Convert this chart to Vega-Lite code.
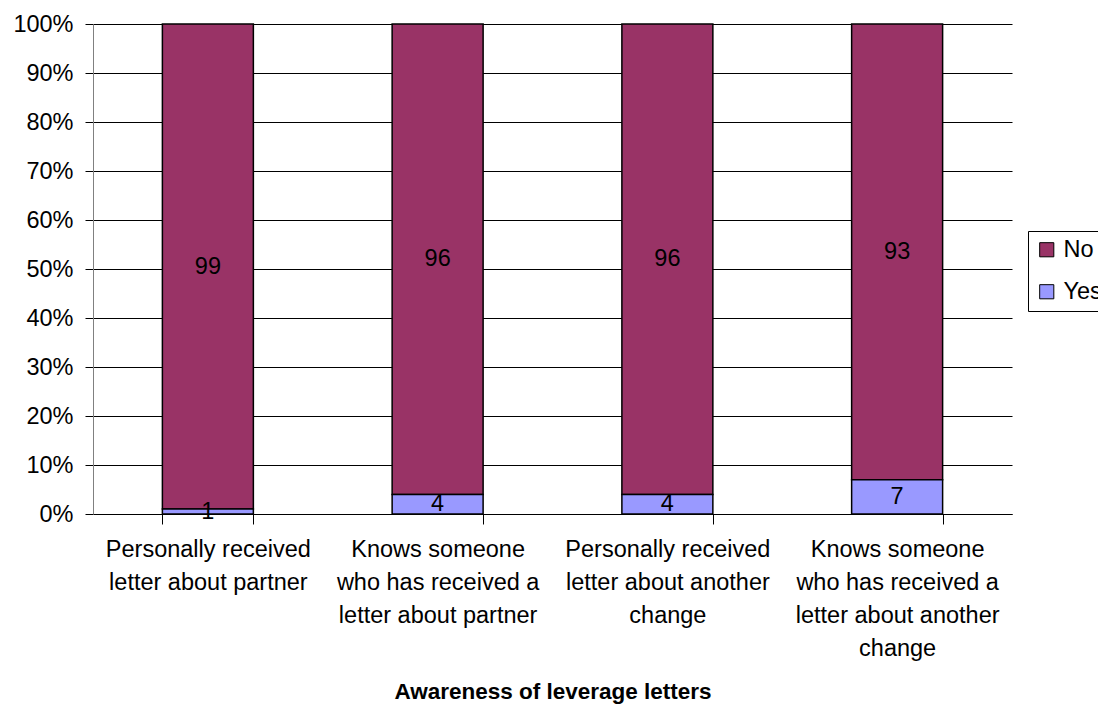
{
  "$schema": "https://vega.github.io/schema/vega-lite/v6.json",
  "autosize": {"type": "none"},
  "width": 919,
  "height": 490,
  "padding": {"left": 93, "top": 24, "right": 86, "bottom": 190},
  "background": "white",
  "config": {
    "view": {"stroke": null},
    "font": "Liberation Sans"
  },
  "data": {
    "values": [
      {"item": "Personally received letter about partner", "answer": "No", "pct": 99},
      {"item": "Personally received letter about partner", "answer": "Yes", "pct": 1},
      {"item": "Knows someone who has received a letter about partner", "answer": "No", "pct": 96},
      {"item": "Knows someone who has received a letter about partner", "answer": "Yes", "pct": 4},
      {"item": "Personally received letter about another change", "answer": "No", "pct": 96},
      {"item": "Personally received letter about another change", "answer": "Yes", "pct": 4},
      {"item": "Knows someone who has received a letter about another change", "answer": "No", "pct": 93},
      {"item": "Knows someone who has received a letter about another change", "answer": "Yes", "pct": 7}
    ]
  },
  "encoding": {
    "x": {
      "field": "item",
      "type": "nominal",
      "sort": null,
      "scale": {"paddingInner": 0.604, "paddingOuter": 0.302},
      "axis": {
        "title": "Awareness of leverage letters",
        "titleFont": "Liberation Sans",
        "titleFontSize": 22.5,
        "titleFontWeight": "bold",
        "titleColor": "black",
        "titlePadding": 21,
        "labelAngle": 0,
        "labelFont": "Liberation Sans",
        "labelFontSize": 23.5,
        "labelColor": "black",
        "labelLineHeight": 33,
        "labelPadding": 13,
        "labelLimit": 300,
        "labelExpr": "datum.value == 'Personally received letter about partner' ? ['Personally received', 'letter about partner'] : datum.value == 'Knows someone who has received a letter about partner' ? ['Knows someone', 'who has received a', 'letter about partner'] : datum.value == 'Personally received letter about another change' ? ['Personally received', 'letter about another', 'change'] : datum.value == 'Knows someone who has received a letter about another change' ? ['Knows someone', 'who has received a', 'letter about another', 'change'] : ''",
        "tickBand": "extent",
        "tickSize": 10,
        "tickColor": "black",
        "domainColor": "black",
        "grid": false
      }
    },
    "y": {
      "field": "pct",
      "type": "quantitative",
      "stack": "normalize",
      "scale": {"domain": [0, 1], "nice": false},
      "axis": {
        "title": null,
        "format": "%",
        "values": [0, 0.1, 0.2, 0.3, 0.4, 0.5, 0.6, 0.7, 0.8, 0.9, 1],
        "labelFont": "Liberation Sans",
        "labelFontSize": 23.5,
        "labelColor": "black",
        "labelPadding": 12,
        "tickSize": 8,
        "tickColor": "black",
        "domainColor": "#808080",
        "grid": true,
        "gridColor": "black",
        "gridWidth": 1
      }
    },
    "order": {"field": "answer", "sort": "descending"}
  },
  "layer": [
    {
      "mark": {"type": "bar", "stroke": "black", "strokeWidth": 1.5},
      "encoding": {
        "color": {
          "field": "answer",
          "type": "nominal",
          "scale": {"domain": ["No", "Yes"], "range": ["#993366", "#9999FF"]},
          "legend": {
            "title": null,
            "orient": "none",
            "legendX": 935,
            "legendY": 207,
            "symbolType": "square",
            "symbolSize": 200,
            "symbolStrokeColor": "black",
            "symbolStrokeWidth": 1,
            "symbolOpacity": 1,
            "labelFont": "Liberation Sans",
            "labelFontSize": 23.5,
            "labelColor": "black",
            "labelOffset": 5,
            "rowPadding": 17,
            "padding": 7,
            "strokeColor": "black",
            "fillColor": "white"
          }
        }
      }
    },
    {
      "mark": {"type": "text", "font": "Liberation Sans", "fontSize": 23.5, "color": "black", "baseline": "middle"},
      "encoding": {
        "y": {"field": "pct", "type": "quantitative", "stack": "normalize", "bandPosition": 0.5},
        "text": {"field": "pct", "type": "quantitative"}
      }
    }
  ]
}
